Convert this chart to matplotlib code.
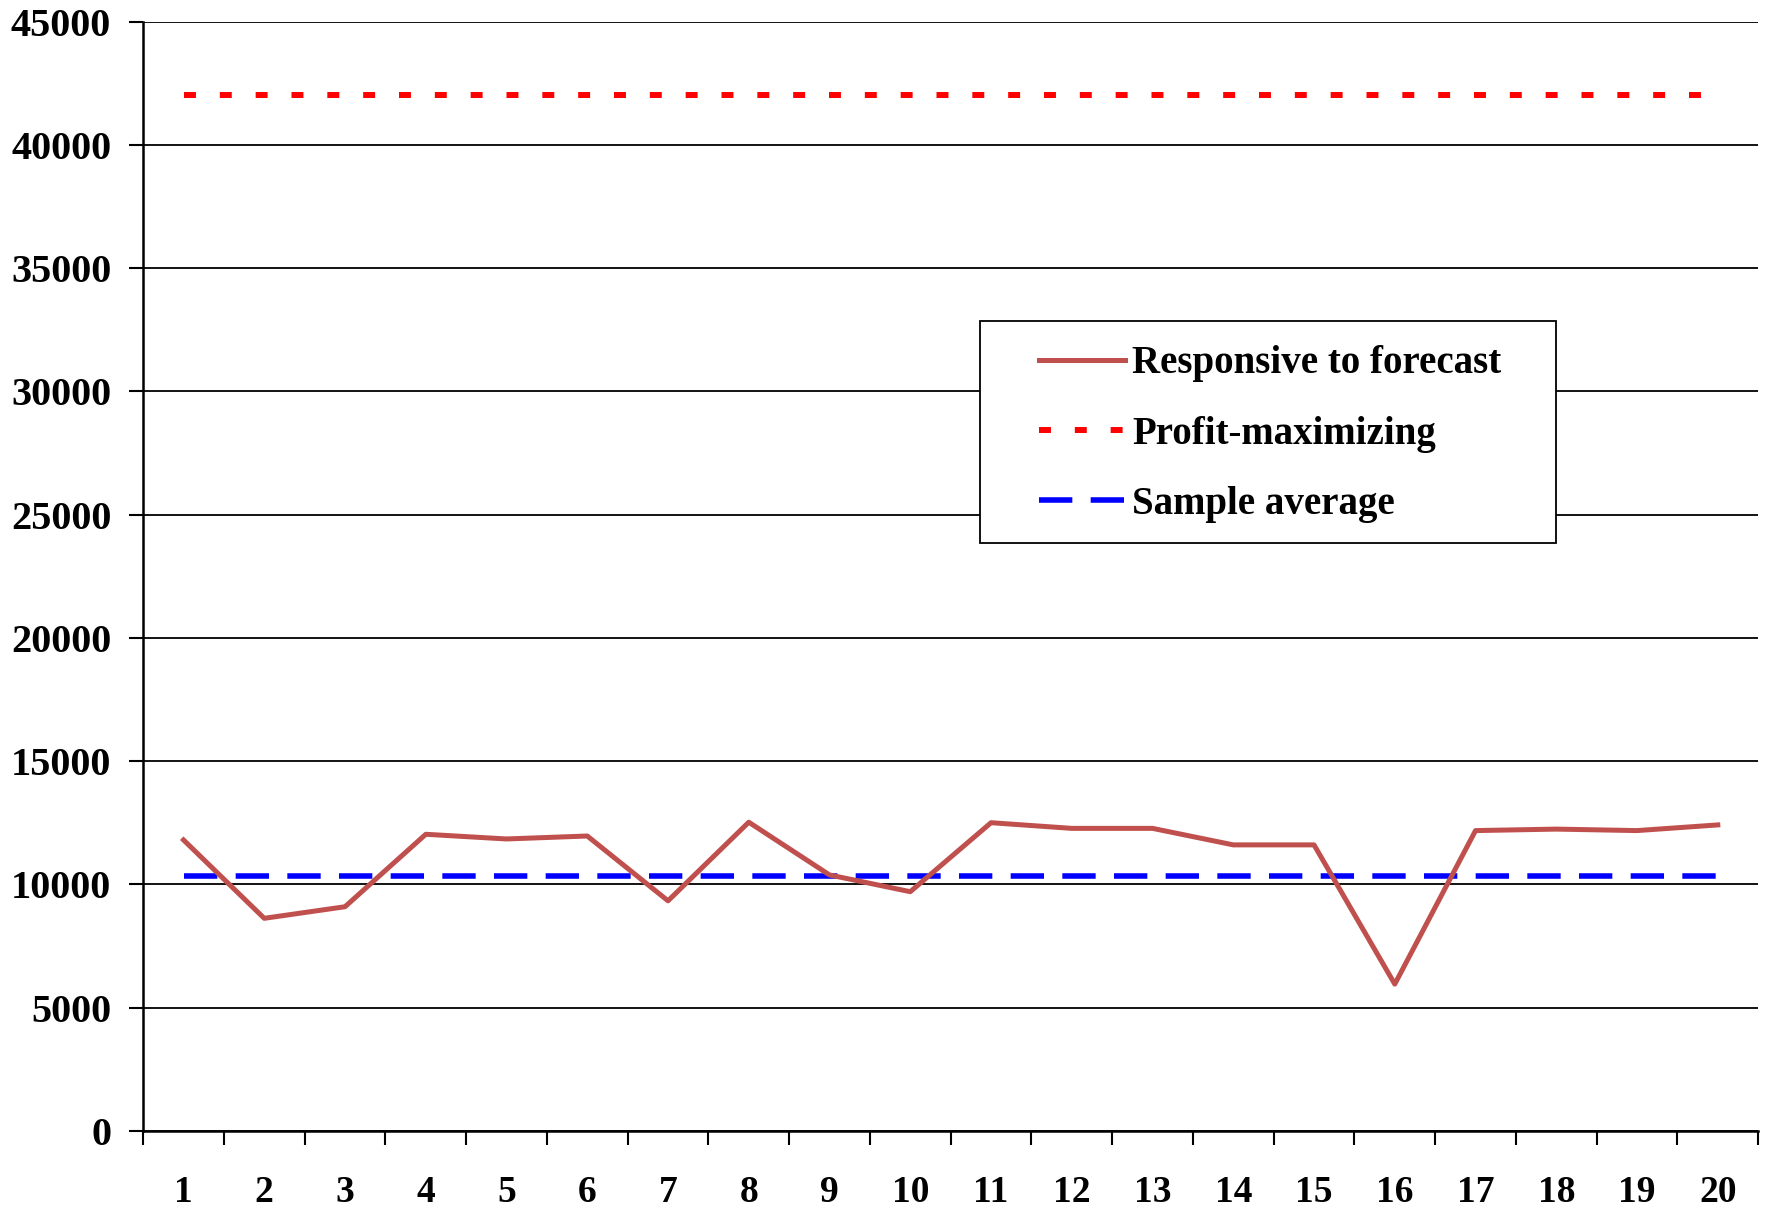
import matplotlib.pyplot as plt
from matplotlib.patches import Rectangle
from matplotlib.ticker import FixedLocator

plt.rcParams["font.family"] = ["Liberation Serif", "DejaVu Serif"]
plt.rcParams["font.weight"] = "bold"

periods = list(range(1, 21))
responsive = [11800, 8620, 9090, 12030, 11840, 11960, 9330, 12520, 10380, 9700,
              12500, 12270, 12270, 11600, 11600, 5950, 12180, 12240, 12180, 12410]
profit_max = 42030
sample_avg = 10340

fig = plt.figure(figsize=(17.67, 12.10), dpi=100)
ax = fig.add_axes([0.081, 0.0655, 0.914, 0.9165])

ax.plot(periods, responsive, color="#C0504D", lw=3.6, label="Responsive to forecast", zorder=4)
ax.plot(periods, [profit_max] * len(periods), color="#FF0000", lw=4.3,
        dashes=(2, 4), label="Profit-maximizing", zorder=3)
ax.plot(periods, [sample_avg] * len(periods), color="#0000FF", lw=4.0,
        dashes=(6, 3.3), label="Sample average", zorder=3)

ax.set_xlim(0.5, 20.5)
ax.set_ylim(0, 45000)
ax.set_yticks(range(0, 45001, 5000))
ax.yaxis.grid(True, color="black", lw=1.3)
ax.set_axisbelow(True)

ax.xaxis.set_major_locator(FixedLocator([i + 0.5 for i in range(0, 21)]))
ax.xaxis.set_minor_locator(FixedLocator(periods))
ax.set_xticklabels([])
ax.set_xticklabels([str(p) for p in periods], minor=True)
ax.tick_params(axis="x", which="major", direction="out", length=10, width=1.5)
ax.tick_params(axis="x", which="minor", length=0, pad=32, labelsize=27)
ax.tick_params(axis="y", direction="out", length=10, width=1.5, pad=13, labelsize=29)

for s in ["top", "right"]:
    ax.spines[s].set_visible(False)
for s in ["left", "bottom"]:
    ax.spines[s].set_linewidth(1.8)

# legend box drawn separately so the handles can sit inset like the original
frame = Rectangle((980 / 1767, 1 - 543 / 1210), 576 / 1767, 222 / 1210,
                  transform=fig.transFigure, facecolor="white", edgecolor="black",
                  lw=1.3, zorder=5, clip_on=False)
ax.add_patch(frame)

leg = ax.legend(loc="center left", bbox_to_anchor=(1039 / 1767, 1 - 434 / 1210),
                bbox_transform=fig.transFigure, fontsize=28, frameon=False,
                handlelength=2.2, handletextpad=0.2, borderpad=0,
                labelspacing=0.85, borderaxespad=0)
leg.set_zorder(6)

fig.savefig("out.png", dpi=100)
